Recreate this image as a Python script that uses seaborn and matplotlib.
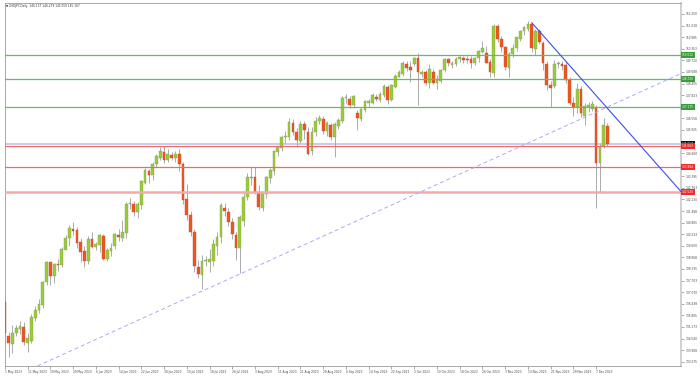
# USDJPY daily candles, May - Dec 2023, MT4 style
import numpy as np
import pandas as pd
import matplotlib
matplotlib.use("Agg")
import matplotlib.pyplot as plt
import seaborn as sns

# ------------------------------
# data
# ------------------------------
dates = pd.bdate_range("2023-05-01", "2023-12-12")

opens = [
    136.28, 137.48, 136.55, 134.69, 134.24, 134.86, 135.04, 135.19, 134.31, 134.42,
    135.64, 136.10, 136.37, 137.61, 138.70, 137.97, 138.59, 138.55, 139.37, 140.00,
    140.50, 140.45, 139.79, 139.31, 138.78, 139.95, 139.55, 139.64, 140.12, 138.88,
    139.30, 139.57, 140.20, 140.00, 140.28, 141.88, 141.88, 141.43, 141.83, 143.05,
    143.70, 143.46, 144.06, 144.41, 144.73, 144.28, 144.55, 144.40, 144.60, 144.06,
    142.14, 141.28, 140.33, 138.42, 138.00, 138.77, 138.70, 138.79, 139.60, 140.06,
    141.68, 141.43, 140.88, 140.19, 139.47, 140.98, 142.24, 143.30, 143.34, 142.52,
    141.65, 142.43, 143.32, 143.68, 144.70, 144.95, 145.54, 145.55, 146.29, 145.80,
    145.34, 146.25, 145.80, 144.79, 145.80, 146.43, 146.50, 145.86, 146.19, 145.52,
    146.15, 146.43, 147.68, 147.60, 147.30, 146.87, 146.50, 147.00, 147.40, 147.40,
    147.70, 147.55, 147.83, 148.28, 147.55, 148.28, 148.83, 148.97, 149.50, 149.35,
    149.52, 149.83, 149.00, 149.10, 148.50, 149.10, 148.50, 148.60, 149.20, 149.78,
    149.47, 149.52, 149.80, 149.85, 149.80, 149.80, 149.60, 149.83, 150.20, 150.10,
    149.65, 149.02, 151.60, 150.88, 150.43, 149.33, 150.05, 150.38, 150.88, 151.30,
    151.43, 151.70, 150.35, 151.34, 150.65, 149.50, 148.37, 148.30, 149.50, 149.50,
    149.47, 148.65, 147.41, 147.16, 148.16, 146.70, 147.20, 147.07, 147.19, 144.10,
    145.05, 146.137,
]
highs = [
    137.77, 137.70, 136.75, 134.90, 135.28, 135.30, 135.47, 135.46, 134.85, 135.88,
    136.30, 136.70, 137.70, 138.75, 138.73, 138.65, 138.90, 139.55, 140.20, 140.72,
    140.92, 140.60, 140.00, 139.60, 140.15, 140.35, 139.80, 140.25, 140.22, 139.50,
    139.75, 140.30, 140.50, 141.00, 142.00, 142.20, 142.05, 142.00, 143.20, 143.87,
    143.80, 144.15, 144.60, 145.00, 145.07, 144.90, 144.70, 144.75, 144.90, 144.20,
    142.95, 141.50, 140.50, 138.80, 139.10, 139.05, 139.40, 139.95, 140.35, 141.95,
    141.95, 141.65, 141.10, 140.35, 141.28, 142.60, 143.55, 143.90, 143.92, 142.90,
    142.55, 143.40, 143.85, 144.85, 145.05, 145.60, 145.85, 146.56, 146.50, 146.05,
    146.40, 146.40, 146.10, 146.10, 146.65, 146.75, 146.70, 146.40, 146.30, 146.35,
    146.55, 147.80, 147.87, 147.80, 147.85, 147.00, 147.10, 147.55, 147.60, 147.95,
    147.90, 148.00, 148.45, 148.40, 148.45, 148.95, 149.20, 149.70, 149.70, 149.70,
    149.90, 150.14, 149.20, 149.20, 149.50, 149.25, 148.90, 149.25, 149.85, 149.85,
    149.70, 149.90, 149.95, 149.95, 149.98, 149.95, 149.90, 150.30, 150.78, 150.50,
    149.80, 151.72, 151.72, 151.05, 150.50, 150.20, 150.60, 151.00, 151.40, 151.60,
    151.87, 151.78, 151.45, 151.43, 150.80, 149.70, 148.60, 149.75, 149.70, 149.70,
    149.65, 148.80, 147.70, 148.50, 148.30, 147.40, 147.45, 147.50, 147.30, 145.20,
    146.56, 146.279,
]
lows = [
    136.25, 136.30, 134.60, 133.55, 133.73, 134.70, 134.80, 134.19, 133.80, 134.28,
    135.50, 135.95, 136.20, 137.45, 137.46, 137.55, 138.20, 138.45, 139.55, 139.60,
    140.20, 139.50, 138.70, 138.46, 138.60, 139.50, 139.35, 139.25, 138.80, 138.75,
    139.05, 139.40, 139.85, 139.86, 140.00, 141.60, 141.25, 141.10, 141.60, 142.95,
    143.00, 143.20, 143.90, 144.30, 144.10, 144.15, 144.30, 144.20, 143.70, 141.90,
    141.00, 140.15, 138.15, 137.84, 137.24, 138.50, 138.15, 138.50, 139.10, 139.75,
    141.25, 140.70, 139.95, 138.82, 138.10, 140.70, 142.10, 142.90, 142.40, 141.55,
    141.50, 142.20, 143.05, 143.45, 144.50, 144.80, 145.20, 145.40, 145.65, 145.00,
    145.20, 145.45, 144.55, 144.55, 145.60, 146.25, 145.70, 145.60, 145.35, 144.45,
    146.00, 146.30, 147.40, 147.10, 147.10, 145.90, 146.40, 146.90, 147.20, 147.35,
    147.50, 147.45, 147.70, 147.35, 147.50, 148.20, 148.80, 148.85, 149.15, 148.55,
    149.40, 147.28, 148.80, 148.40, 148.20, 148.45, 148.15, 148.50, 149.10, 149.40,
    149.30, 149.40, 149.65, 149.60, 149.60, 149.30, 149.45, 149.65, 150.10, 149.55,
    148.80, 148.80, 150.70, 150.20, 149.20, 148.83, 149.90, 150.25, 150.75, 151.10,
    151.30, 150.15, 150.01, 150.60, 149.20, 148.10, 147.15, 148.20, 149.30, 149.20,
    148.50, 147.30, 146.70, 146.85, 146.65, 146.20, 146.90, 146.95, 141.65, 142.50,
    144.95, 145.059,
]
closes = [
    137.48, 136.55, 134.82, 134.28, 134.82, 135.10, 135.22, 134.37, 134.55, 135.73,
    136.10, 136.40, 137.60, 138.70, 137.97, 138.59, 138.55, 139.42, 140.00, 140.59,
    140.40, 139.77, 139.28, 138.78, 139.95, 139.55, 139.70, 140.19, 138.88, 139.35,
    139.50, 140.22, 140.10, 140.35, 141.88, 141.95, 141.43, 141.88, 143.14, 143.74,
    143.46, 144.06, 144.50, 144.79, 144.28, 144.60, 144.40, 144.62, 144.06, 142.10,
    141.28, 140.37, 138.51, 138.04, 138.77, 138.80, 138.90, 139.70, 140.10, 141.83,
    141.50, 140.92, 140.23, 139.50, 141.15, 142.27, 143.35, 143.33, 142.52, 141.74,
    142.48, 143.34, 143.74, 144.78, 144.97, 145.54, 145.58, 146.34, 145.83, 145.37,
    146.23, 145.90, 144.60, 145.80, 146.43, 146.55, 145.86, 146.30, 145.52, 146.25,
    146.46, 147.68, 147.72, 147.30, 147.77, 146.56, 147.05, 147.50, 147.50, 147.83,
    147.60, 147.90, 148.32, 147.55, 148.37, 148.87, 149.10, 149.60, 149.30, 149.20,
    149.83, 149.07, 149.10, 148.50, 149.23, 148.50, 148.70, 149.20, 149.78, 149.60,
    149.56, 149.80, 149.90, 149.74, 149.72, 149.60, 149.83, 150.25, 150.40, 149.60,
    149.07, 151.60, 150.88, 150.43, 149.37, 150.05, 150.38, 150.98, 151.34, 151.55,
    151.70, 150.38, 151.34, 150.70, 149.60, 148.37, 148.20, 149.50, 149.60, 149.40,
    148.65, 147.41, 147.20, 148.16, 146.83, 147.25, 147.28, 147.32, 144.10, 145.00,
    146.17, 145.167,
]

title_text = "\u25bc USDJPY,Daily  146.137 146.279 145.059 145.167"

# horizontal levels
green_levels = [150.012, 148.720, 147.175]
red_levels = [145.063, 143.884, 142.520]
bid_price = 145.167

# trend lines (anchor date, price)
down_trend = [("2023-11-14", 151.78), ("2023-12-12", 147.10)]
up_trend = [("2023-07-14", 137.12), ("2023-07-28", 138.06)]

# axis labels
y_tick_labels = [
    "133.275", "133.908", "134.540", "135.173", "135.805", "136.438", "137.070",
    "137.703", "138.335", "138.968", "139.600", "140.233", "140.865", "141.498",
    "142.130", "142.763", "143.395", "144.028", "144.660", "145.293", "145.925",
    "146.558", "147.190", "147.823", "148.455", "149.088", "149.720", "150.353",
    "150.985", "151.618", "152.250",
]
x_tick_dates = [
    "2023-05-01", "2023-05-11", "2023-05-19", "2023-05-29", "2023-06-06",
    "2023-06-14", "2023-06-22", "2023-06-30", "2023-07-10", "2023-07-18",
    "2023-07-26", "2023-08-03", "2023-08-11", "2023-08-21", "2023-08-29",
    "2023-09-06", "2023-09-14", "2023-09-22", "2023-10-02", "2023-10-10",
    "2023-10-18", "2023-10-26", "2023-11-03", "2023-11-13", "2023-11-21",
    "2023-11-29", "2023-12-07",
]

df = pd.DataFrame({"date": dates, "open": opens, "high": highs,
                   "low": lows, "close": closes})
df["pos"] = np.arange(len(df))

# ------------------------------
# figure
# ------------------------------
sns.set_theme(style="white")
plt.rcParams["font.family"] = ["DejaVu Sans"]

fig = plt.figure(figsize=(7, 3.76), dpi=100)
ax = fig.add_axes([5 / 700, 10 / 376, 676 / 700, 363 / 376])
x_left, x_right = 2.03, 180.4
ax.set_xlim(x_left, x_right)
ax.set_ylim(133.04, 152.85)

bull, bear = "#9acd32", "#f2541b"
for _, r in df.iterrows():
    up = r["close"] >= r["open"]
    ax.vlines(r["pos"], r["low"], r["high"], color="#ababab", lw=0.7, zorder=2)
    ax.bar(r["pos"], max(abs(r["close"] - r["open"]), 0.04),
           bottom=min(r["open"], r["close"]), width=0.72,
           color=bull if up else bear,
           edgecolor="#8c9a6a" if up else "#b8543a", lw=0.3, zorder=3)

# levels
ax.axhline(bid_price, color="#c9cde8", lw=1.4, zorder=1.5)
for lv in green_levels:
    ax.axhline(lv, color="#66bb66", lw=0.9, zorder=4)
ax.axhline(red_levels[0], color="#f06a6a", lw=0.9, zorder=4)
ax.axhline(red_levels[1], color="#f06a6a", lw=0.9, zorder=4)
ax.axhline(red_levels[2], color="#f7a9a9", lw=1.8, zorder=4)

# trend lines
pos_of = {d: p for d, p in zip(df["date"], df["pos"])}
(d1, p1), (d2, p2) = down_trend
x1, x2 = pos_of[pd.Timestamp(d1)], pos_of[pd.Timestamp(d2)]
slope = (p2 - p1) / (x2 - x1)
ax.plot([x1, x_right], [p1, p1 + slope * (x_right - x1)],
        color="#3f4de8", lw=0.8, zorder=5)
(u1, q1), (u2, q2) = up_trend
ax.axline((pos_of[pd.Timestamp(u1)], q1), (pos_of[pd.Timestamp(u2)], q2),
          color="#a9a9f4", lw=0.7, ls=(0, (4, 3)), zorder=5)

# right price scale (labels hidden behind a level tag are left blank, as in MT4)
tag_levels = green_levels + [bid_price] + red_levels
shown = [lab if min(abs(float(lab) - t) for t in tag_levels) > 0.2 else ""
         for lab in y_tick_labels]
ax.yaxis.tick_right()
ax.set_yticks([float(v) for v in y_tick_labels])
ax.set_yticklabels(shown)
ax.tick_params(axis="y", which="both", right=True, length=2, width=0.5,
               color="#888888", labelsize=2.1, labelcolor="#444444", pad=1)

# right-edge level tags
def tag(price, fc):
    ax.annotate(f"{price:.3f}", xy=(1, price), xycoords=("axes fraction", "data"),
                xytext=(0.6, 0), textcoords="offset points", ha="left", va="center",
                fontsize=2.1, color="white", annotation_clip=False, zorder=10,
                bbox=dict(boxstyle="square,pad=0.3", fc=fc, ec="none"))

for lv in green_levels:
    tag(lv, "#3a9c3a")
tag(bid_price, "#111111")
for lv in red_levels:
    tag(lv, "#f02a2a")

# bottom date scale
tick_pos = [max(pos_of[pd.Timestamp(d)], x_left) for d in x_tick_dates]
tick_lab = [f"{pd.Timestamp(d).day} {pd.Timestamp(d):%b %Y}" for d in x_tick_dates]
ax.set_xticks(tick_pos)
ax.set_xticklabels(tick_lab, ha="left")
ax.tick_params(axis="x", bottom=True, length=2, width=0.5, color="#888888",
               labelsize=2.1, labelcolor="#444444", pad=1)

for s in ax.spines.values():
    s.set_color("#9a9a9a")
    s.set_linewidth(0.6)
ax.spines["right"].set_color("#c8c8c8")
ax.spines["right"].set_linewidth(1.2)

ax.text(0.002, 0.997, title_text, transform=ax.transAxes, ha="left", va="top",
        fontsize=2.1, color="#333333")

fig.savefig("out.png", dpi=100, facecolor="white")
